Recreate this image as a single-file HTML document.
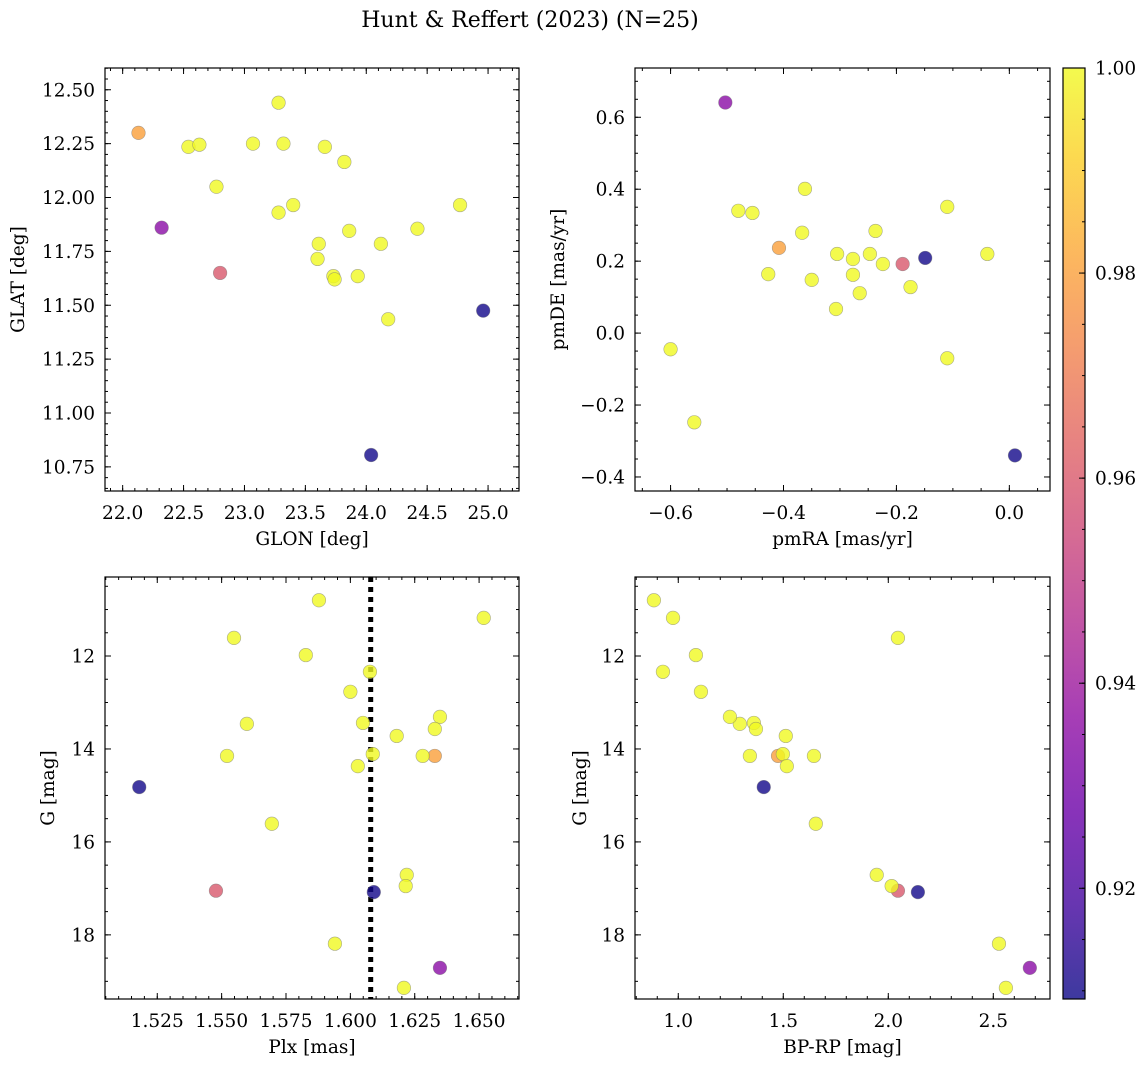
<!DOCTYPE html>
<html><head><meta charset="utf-8"><style>
body{margin:0;background:#fff}
svg{display:block;font-family:"DejaVu Serif","Liberation Serif",serif}
</style></head><body>
<svg id="fig" width="1148" height="1067" viewBox="0 0 1148 1067" xmlns="http://www.w3.org/2000/svg">
<text x="530" y="27" font-size="22" text-anchor="middle">Hunt &amp; Reffert (2023) (N=25)</text>
</svg>
<script>
const prob=[0.98,0.96,0.935,0.91,0.91,1,1,1,1,1,1,1,1,1,1,1,1,1,1,1,1,1,1,1,1];
const glon=[22.13,22.80,22.32,24.96,24.04,22.54,22.63,22.77,23.07,23.28,23.32,23.28,23.40,23.66,23.82,23.61,23.60,23.86,23.73,23.74,23.93,24.12,24.18,24.42,24.77];
const glat=[12.30,11.65,11.86,11.475,10.805,12.235,12.245,12.05,12.25,12.44,12.25,11.93,11.965,12.235,12.165,11.785,11.715,11.845,11.635,11.62,11.635,11.785,11.435,11.855,11.965];
const pmra=[-0.408,-0.189,-0.503,-0.149,0.010,-0.480,-0.362,-0.455,-0.367,-0.427,-0.350,-0.305,-0.277,-0.277,-0.247,-0.237,-0.224,-0.265,-0.307,-0.175,-0.110,-0.039,-0.110,-0.600,-0.558];
const pmde=[0.237,0.192,0.641,0.209,-0.340,0.340,0.401,0.334,0.279,0.164,0.148,0.220,0.206,0.162,0.220,0.284,0.192,0.111,0.067,0.128,0.351,0.220,-0.070,-0.045,-0.248];
const plx=[1.6328,1.5478,1.6348,1.518,1.6091,1.5878,1.6518,1.5548,1.5827,1.6076,1.6,1.5598,1.6348,1.6049,1.6328,1.618,1.5521,1.6281,1.6087,1.6029,1.5695,1.6219,1.6215,1.594,1.6208];
const gmag=[14.15,17.05,18.71,14.82,17.08,10.80,11.18,11.61,11.98,12.34,12.77,13.46,13.31,13.44,13.57,13.72,14.15,14.15,14.11,14.37,15.61,16.71,16.95,18.19,19.14];
const bprp=[1.475,2.046,2.674,1.407,2.141,0.884,0.975,2.046,1.084,0.927,1.108,1.293,1.246,1.360,1.370,1.512,1.341,1.646,1.498,1.517,1.655,1.945,2.016,2.527,2.56];
const plxRef=[1.6079];
const cbTicks=[0.92,0.94,0.96,0.98,1.00];
const vmin=0.9092,vmax=1.0;
const NS="http://www.w3.org/2000/svg";
const fig=document.getElementById('fig');
const FS=18.5;
const stops=["#0d0887","#41049d","#6a00a8","#8f0da4","#b12a90","#cc4778","#e16462","#f2844b","#fca636","#fcce25","#f0f921"];
function hex(h){return [1,3,5].map(i=>parseInt(h.substr(i,2),16));}
function plasma(t){t=Math.max(0,Math.min(1,t));const f=t*10,i=Math.min(9,Math.floor(f)),r=f-i;const a=hex(stops[i]),b=hex(stops[i+1]);return 'rgb('+a.map((v,k)=>Math.round(v+(b[k]-v)*r)).join(',')+')';}
function el(tag,attrs,parent){const e=document.createElementNS(NS,tag);for(const k in attrs)e.setAttribute(k,attrs[k]);(parent||fig).appendChild(e);return e;}
function fmt(v,d){const s=Math.abs(v).toFixed(d);return (v< -1e-9?'\u2212':'')+s;}
function panel(o){
  const g=el('g',{});
  
  
  const L=o.x0,R=o.x1,T=o.y0,B=o.y1;
  const sx=v=>L+(v-o.xmin)/(o.xmax-o.xmin)*(R-L);
  const sy=o.yinv?(v=>T+(v-o.ymin)/(o.ymax-o.ymin)*(B-T)):(v=>B-(v-o.ymin)/(o.ymax-o.ymin)*(B-T));
  function ticks(min,max,step){const a=[];for(let v=Math.ceil(min/step-1e-6)*step;v<=max+1e-9;v+=step)a.push(+v.toFixed(6));return a;}
  const tg=el('g',{stroke:'#000','stroke-width':1},g);
  
  
  ticks(o.xmin,o.xmax,o.xminor).forEach(v=>{const x=sx(v);el('line',{x1:x,x2:x,y1:B,y2:B-3},tg);el('line',{x1:x,x2:x,y1:T,y2:T+3},tg);});
  ticks(o.ymin,o.ymax,o.yminor).forEach(v=>{const y=sy(v);el('line',{x1:L,x2:L+3,y1:y,y2:y},tg);el('line',{x1:R,x2:R-3,y1:y,y2:y},tg);});
  ticks(o.xmin,o.xmax,o.xmajor).forEach(v=>{const x=sx(v);el('line',{x1:x,x2:x,y1:B,y2:B-6},tg);el('line',{x1:x,x2:x,y1:T,y2:T+6},tg);
    const t=el('text',{x:x,y:B+28,'font-size':FS,'text-anchor':'middle',stroke:'none'},g);t.textContent=fmt(v,o.xd);
    });
  ticks(o.ymin,o.ymax,o.ymajor).forEach(v=>{const y=sy(v);el('line',{x1:L,x2:L+6,y1:y,y2:y},tg);el('line',{x1:R,x2:R-6,y1:y,y2:y},tg);
    const t=el('text',{x:L-10,y:y+6.5,'font-size':FS,'text-anchor':'end',stroke:'none'},g);t.textContent=fmt(v,o.yd);
    });
  if(o.vline){o.vline.forEach(v=>{const l=el('line',{x1:sx(v),x2:sx(v),y1:T,y2:B,stroke:'#000','stroke-width':5,'stroke-dasharray':'5 5'},g);
    });}
  const pg=el('g',{},g);
  
  
  o.xs.forEach((xv,i)=>{const c=el('circle',{cx:sx(xv),cy:sy(o.ys[i]),r:6.8,fill:plasma((prob[i]-vmin)/(vmax-vmin)),'fill-opacity':0.8,stroke:'#777','stroke-opacity':0.6,'stroke-width':0.6},pg);
    });
  const fr=el('rect',{x:L,y:T,width:R-L,height:B-T,fill:'none',stroke:'#000','stroke-width':1.2},g);
  
  const xl=el('text',{x:(L+R)/2,y:B+54,'font-size':FS,'text-anchor':'middle'},g);xl.textContent=o.xlabel;
  
  const yl=el('text',{x:0,y:0,'font-size':FS,'text-anchor':'middle',transform:`translate(${o.ylx},${(T+B)/2}) rotate(-90)`},g);yl.textContent=o.ylabel;
  
}
panel({name:'glon-glat-panel',x0:105,x1:519,y0:68,y1:491,xmin:21.855,xmax:25.254,ymin:10.638,ymax:12.601,xmajor:0.5,xminor:0.1,ymajor:0.25,yminor:0.05,xd:1,yd:2,xs:glon,ys:glat,xlabel:'GLON [deg]',ylabel:'GLAT [deg]',ylx:24});
panel({name:'pm-panel',x0:635,x1:1050,y0:68,y1:491,xmin:-0.663,xmax:0.072,ymin:-0.439,ymax:0.737,xmajor:0.2,xminor:0.05,ymajor:0.2,yminor:0.05,xd:1,yd:1,xs:pmra,ys:pmde,xlabel:'pmRA [mas/yr]',ylabel:'pmDE [mas/yr]',ylx:564});
panel({name:'plx-g-panel',x0:105,x1:519,y0:577,y1:999,xmin:1.5047,xmax:1.6655,ymin:10.30,ymax:19.38,yinv:true,xmajor:0.025,xminor:0.005,ymajor:2,yminor:0.5,xd:3,yd:0,xs:plx,ys:gmag,xlabel:'Plx [mas]',ylabel:'G [mag]',ylx:54,vline:plxRef});
panel({name:'cmd-panel',x0:635,x1:1050,y0:577,y1:999,xmin:0.794,xmax:2.77,ymin:10.30,ymax:19.38,yinv:true,xmajor:0.5,xminor:0.1,ymajor:2,yminor:0.5,xd:1,yd:0,xs:bprp,ys:gmag,xlabel:'BP-RP [mag]',ylabel:'G [mag]',ylx:586});
const cb=el('g',{});


const defs=el('defs',{},cb);
const lg=el('linearGradient',{id:'cbg',x1:0,y1:1,x2:0,y2:0},defs);
for(let k=0;k<=10;k++)el('stop',{offset:k/10,'stop-color':stops[k],'stop-opacity':0.8},lg);
const CT=68,CB=999,CL=1063,CR=1085;
el('rect',{x:CL,y:CT,width:CR-CL,height:CB-CT,fill:'url(#cbg)',stroke:'#000','stroke-width':1.2},cb);
const cy=v=>CB-(v-vmin)/(vmax-vmin)*(CB-CT);
for(let v=0.91;v<=1.0001;v+=0.005){const y=cy(v);if(y>=CT&&y<=CB)el('line',{x1:CR,x2:CR-3,y1:y,y2:y,stroke:'#000'},cb);}
cbTicks.forEach(v=>{const y=cy(v);el('line',{x1:CR,x2:CR-6,y1:y,y2:y,stroke:'#000'},cb);
  const t=el('text',{x:CR+10,y:y+6.5,'font-size':FS},cb);t.textContent=v.toFixed(2);
  });
</script>
</body></html>
